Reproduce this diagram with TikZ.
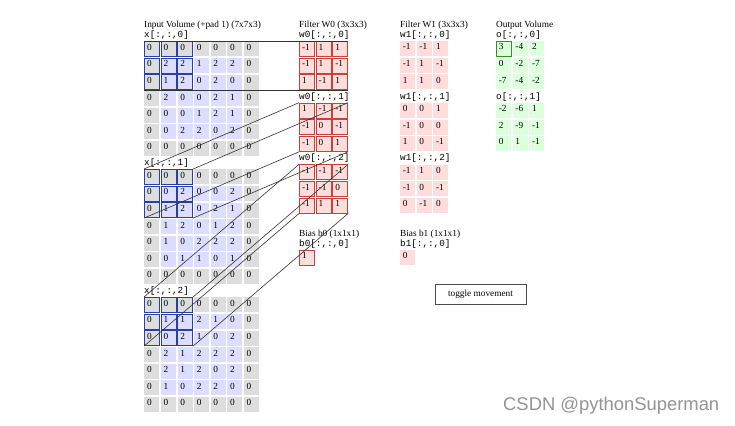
\documentclass[tikz,border=0pt]{standalone}
\usepackage{fontspec}
\setmainfont{Liberation Serif}
\setmonofont{Liberation Mono}
\setsansfont{Liberation Sans}
\definecolor{padgray}{HTML}{DDDDDD}
\definecolor{inblue}{HTML}{DDDDFF}
\definecolor{wpink}{HTML}{FFDDDD}
\definecolor{ogreen}{HTML}{DDFFDD}
\definecolor{winblue}{HTML}{2C3FA8}
\definecolor{wred}{HTML}{C8423C}
\definecolor{oline}{HTML}{3C8C28}
\newcommand\cellfont{\fontsize{9.3}{10}\selectfont}

\begin{document}
\begin{tikzpicture}
[x=1pt,y=-1pt,
cell/.style={anchor=north west,minimum width=15pt,minimum height=15pt,inner xsep=2.6pt,inner ysep=0pt,
  text width=9.8pt,align=left,text height=6.6pt,text depth=4pt,font=\cellfont},
wcell/.style={cell,fill=wpink},
ocell/.style={cell,fill=ogreen},
redbox/.style={draw=wred,line width=0.9pt},
heading/.style={anchor=base west,inner sep=0pt,font=\cellfont},
slice/.style={anchor=base west,inner sep=0pt,font=\ttfamily\cellfont},
link/.style={draw=black!80,line width=0.6pt},
button/.style={draw=black!70,line width=0.9pt,minimum width=91pt,minimum height=20pt,inner sep=0pt,font=\cellfont}]
\useasboundingbox[fill=white] (0,0) rectangle (735,425);

\node[heading] (intitle) at (144,27.5) {Input Volume (+pad 1) (7x7x3)};
\foreach \s/\rows in {
0/{{0,0,0,0,0,0,0},{0,2,2,1,2,2,0},{0,1,2,0,2,0,0},{0,2,0,0,2,1,0},{0,0,0,1,2,1,0},{0,0,2,2,0,2,0},{0,0,0,0,0,0,0}},
1/{{0,0,0,0,0,0,0},{0,0,2,0,0,2,0},{0,1,2,0,2,1,0},{0,1,2,0,1,2,0},{0,1,0,2,2,2,0},{0,0,1,1,0,1,0},{0,0,0,0,0,0,0}},
2/{{0,0,0,0,0,0,0},{0,1,1,2,1,0,0},{0,0,2,1,0,2,0},{0,2,1,2,2,2,0},{0,2,1,2,0,2,0},{0,1,0,2,2,0,0},{0,0,0,0,0,0,0}}}
{
  \pgfmathsetmacro\top{41+128*\s}
  \node[slice] (xlab\s) at (144,\top-3.5) {x[:,:,\s]};
  \foreach \vals [count=\r from 0] in \rows {
    \foreach \v [count=\c from 0] in \vals {
      \pgfmathtruncatemacro\ispad{(\r==0)||(\r==6)||(\c==0)||(\c==6)}
      \pgfmathtruncatemacro\inwin{(\r<3)&&(\c<3)}
      \ifnum\ispad=1 \def\cellfill{padgray}\else\def\cellfill{inblue}\fi
      \ifnum\inwin=1 \def\cellline{winblue}\else\def\cellline{none}\fi
      \node[cell,fill=\cellfill,draw=\cellline,line width=0.9pt] (x\s-\r-\c) at (144+16.6*\c,\top+16.6*\r) {\v};
    }
  }
}

\node[heading] (w0title) at (299,27.5) {Filter W0 (3x3x3)};
\foreach \s/\vals in {0/{-1,1,1,-1,1,-1,1,-1,1},1/{1,-1,-1,-1,0,-1,-1,0,1},2/{-1,-1,-1,-1,-1,0,-1,1,1}} {
  \pgfmathsetmacro\top{41+61.7*\s}
  \node[slice] (w0lab\s) at (299,\top-3.5) {w0[:,:,\s]};
  \foreach \v [count=\i from 0] in \vals {
    \pgfmathtruncatemacro\r{int(\i/3)}
    \pgfmathtruncatemacro\c{mod(\i,3)}
    \node[wcell,redbox] (w0-\s-\r-\c) at (299+16.6*\c,\top+16.6*\r) {\v};
  }
}
\node[heading] (b0title) at (299,236) {Bias b0 (1x1x1)};
\node[slice] (b0lab) at (299,246.3) {b0[:,:,0]};
\node[wcell,redbox] (b0) at (299,249.5) {1};

\node[heading] (w1title) at (400,27.5) {Filter W1 (3x3x3)};
\foreach \s/\vals in {0/{-1,-1,1,-1,1,-1,1,1,0},1/{0,0,1,-1,0,0,1,0,-1},2/{-1,1,0,-1,0,-1,0,-1,0}} {
  \pgfmathsetmacro\top{41+61.7*\s}
  \node[slice] (w1lab\s) at (400,\top-3.5) {w1[:,:,\s]};
  \foreach \v [count=\i from 0] in \vals {
    \pgfmathtruncatemacro\r{int(\i/3)}
    \pgfmathtruncatemacro\c{mod(\i,3)}
    \node[wcell] (w1-\s-\r-\c) at (400+16.6*\c,\top+16.6*\r) {\v};
  }
}
\node[heading] (b1title) at (400,236) {Bias b1 (1x1x1)};
\node[slice] (b1lab) at (400,246.3) {b1[:,:,0]};
\node[wcell] (b1) at (400,249.5) {0};

\node[heading] (otitle) at (496,27.5) {Output Volume};
\foreach \s/\vals in {0/{3,-4,2,0,-2,-7,-7,-4,-2},1/{-2,-6,1,2,-9,-1,0,1,-1}} {
  \pgfmathsetmacro\top{41+61.7*\s}
  \node[slice] (olab\s) at (496,\top-3.5) {o[:,:,\s]};
  \foreach \v [count=\i from 0] in \vals {
    \pgfmathtruncatemacro\r{int(\i/3)}
    \pgfmathtruncatemacro\c{mod(\i,3)}
    \node[ocell] (o-\s-\r-\c) at (496+16.6*\c,\top+16.6*\r) {\v};
  }
}
\draw[oline,line width=0.9pt] (o-0-0-0.north west) rectangle (o-0-0-0.south east);

\foreach \s in {0,1,2} {
  \draw[link] (x\s-0-0.north west) -- (w0-\s-0-0.north west);
  \draw[link] (x\s-0-2.north east) -- (w0-\s-0-2.north east);
  \draw[link] (x\s-2-0.south west) -- (w0-\s-2-0.south west);
  \draw[link] (x\s-2-2.south east) -- (w0-\s-2-2.south east);
}

\node[button] (toggle) at (480.5,294) {toggle movement};
\node[anchor=base west,inner sep=0pt,font=\sffamily\fontsize{18.4}{20}\selectfont,text=black!42] (mark) at (503,410) {CSDN @pythonSuperman};
\end{tikzpicture}
\end{document}
